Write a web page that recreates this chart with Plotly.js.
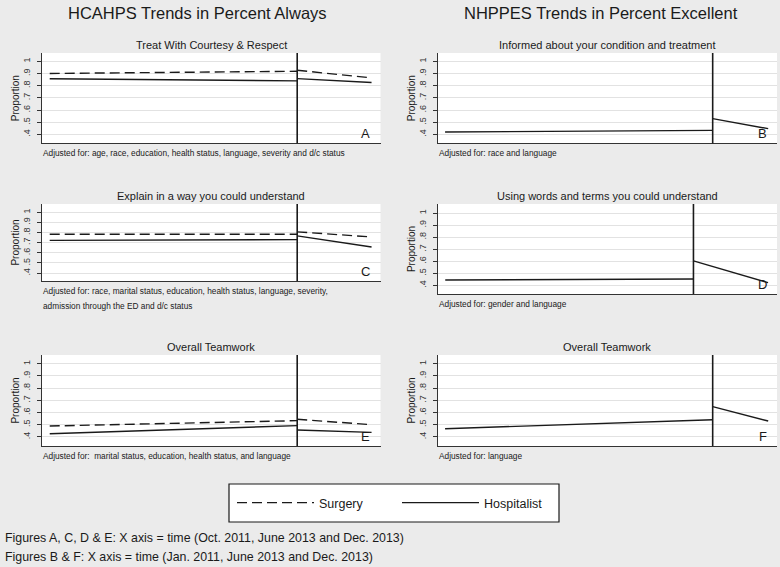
<!DOCTYPE html>
<html>
<head>
<meta charset="utf-8">
<script src="https://cdn.plot.ly/plotly-3.0.1.min.js"></script>
<style>html,body{margin:0;padding:0;background:#ebebeb;}#chart{width:780px;height:567px;}</style>
</head>
<body>
<div id="chart"></div>
<script>
// ---- Data ----
const datesACDE = ['2011-10-01', '2013-06-01', '2013-12-01'];
const datesBF   = ['2011-01-01', '2013-06-01', '2013-12-01'];
const breakDate = '2013-06-01';

// each series: [pre start, pre end (June 2013), post start (June 2013), post end (Dec 2013)]
const surgeryA     = [0.900, 0.918, 0.926, 0.864];
const hospitalistA = [0.857, 0.839, 0.858, 0.826];
const hospitalistB = [0.420, 0.433, 0.529, 0.447];
const surgeryC     = [0.783, 0.783, 0.807, 0.757];
const hospitalistC = [0.723, 0.730, 0.767, 0.657];
const hospitalistD = [0.444, 0.453, 0.603, 0.422];
const surgeryE     = [0.489, 0.533, 0.544, 0.500];
const hospitalistE = [0.426, 0.492, 0.456, 0.437];
const hospitalistF = [0.467, 0.541, 0.648, 0.530];

const yTickVals = [0.4, 0.5, 0.6, 0.7, 0.8, 0.9, 1];
const yTickText = ['.4', '.5', '.6', '.7', '.8', '.9', '1'];

const columnTitles = ['HCAHPS Trends in Percent Always', 'NHPPES Trends in Percent Excellent'];
const panelTitles = ['Treat With Courtesy & Respect', 'Informed about your condition and treatment',
  'Explain in a way you could understand', 'Using words and terms you could understand',
  'Overall Teamwork', 'Overall Teamwork'];
const panelLetters = ['A', 'B', 'C', 'D', 'E', 'F'];
const panelNotes = [
  ['Adjusted for: age, race, education, health status, language, severity and d/c status'],
  ['Adjusted for: race and language'],
  ['Adjusted for: race, marital status, education, health status, language, severity,', 'admission through the ED and d/c status'],
  ['Adjusted for: gender and language'],
  ['Adjusted for:  marital status, education, health status, and language'],
  ['Adjusted for: language']
];
const captions = ['Figures A, C, D & E: X axis = time (Oct. 2011, June 2013 and Dec. 2013)',
  'Figures B & F: X axis = time (Jan. 2011, June 2013 and Dec. 2013)'];
const seriesNames = ['Surgery', 'Hospitalist'];

// ---- Layout geometry ----
const W = 780, H = 567;
const colX = [[42, 380.5], [437.5, 777]];
const panelRows = [[53,143.3],[53,143.3],[204,281],[204,294],[355,446],[355,446]];
const panelCols = [0,1,0,1,0,1];
const panelDates = [datesACDE, datesBF, datesACDE, datesACDE, datesACDE, datesBF];
const xRanges = {ACDE: ['2011-09-12', '2013-12-23'], BF: ['2010-12-07', '2013-12-30']};
const panelXRange = [xRanges.ACDE, xRanges.BF, xRanges.ACDE, xRanges.ACDE, xRanges.ACDE, xRanges.BF];
const panelYRange = [[0.327,1.068],[0.327,1.068],[0.322,1.082],[0.328,1.076],[0.325,1.072],[0.325,1.072]];
const panelSeries = [
  [surgeryA, hospitalistA], [null, hospitalistB], [surgeryC, hospitalistC],
  [null, hospitalistD], [surgeryE, hospitalistE], [null, hospitalistF]
];

const ink = '#1a1a1a';
const FONT = 'Liberation Sans, Arial, Helvetica, sans-serif';

function seg(dates, v) {
  return {
    x: [dates[0], dates[1], dates[1], dates[1], dates[2]],
    y: [v[0], v[1], null, v[2], v[3]]
  };
}

const traces = [];
const layout = {
  width: W, height: H,
  margin: {l: 0, r: 0, t: 0, b: 0},
  paper_bgcolor: '#ebebeb',
  plot_bgcolor: '#ffffff',
  font: {family: FONT, color: ink},
  showlegend: true,
  legend: {
    orientation: 'h', x: 232 / W, xanchor: 'left', y: 1 - 503 / H, yanchor: 'middle',
    bgcolor: 'rgba(0,0,0,0)', borderwidth: 0, itemwidth: 77, entrywidth: 73,
    font: {size: 12.5, color: ink, family: FONT}, traceorder: 'normal'
  },
  shapes: [],
  annotations: []
};

for (let p = 0; p < 6; p++) {
  const ax = p === 0 ? '' : String(p + 1);
  const col = colX[panelCols[p]];
  const row = panelRows[p];
  layout['xaxis' + ax] = {
    domain: [col[0] / W, col[1] / W],
    type: 'date', range: panelXRange[p],
    showgrid: false, zeroline: false, showticklabels: false, ticks: '',
    showline: true, linecolor: '#333', linewidth: 1,
    anchor: 'y' + ax, fixedrange: true
  };
  layout['yaxis' + ax] = {
    domain: [1 - row[1] / H, 1 - row[0] / H],
    range: panelYRange[p],
    tickvals: yTickVals, ticktext: yTickText, tickangle: -90,
    tickfont: {size: 9, color: '#333'},
    ticks: 'outside', ticklen: 4, tickcolor: '#333', ticklabelstandoff: 3,
    showgrid: true, gridcolor: '#e2e2e2', gridwidth: 1, zeroline: false,
    showline: true, linecolor: '#333', linewidth: 1,
    title: {text: 'Proportion', font: {size: 10, color: ink}, standoff: 0},
    anchor: 'x' + ax, fixedrange: true
  };
  panelSeries[p].forEach((vals, s) => {
    if (!vals) return;
    const sg = seg(panelDates[p], vals);
    traces.push({
      type: 'scatter', mode: 'lines', x: sg.x, y: sg.y,
      xaxis: 'x' + ax, yaxis: 'y' + ax,
      name: seriesNames[s], legendgroup: seriesNames[s],
      showlegend: p === 0,
      line: {color: ink, width: 1.4, dash: s === 0 ? '10px,5px' : 'solid'},
      hoverinfo: 'skip', connectgaps: false
    });
  });
  layout.shapes.push({
    type: 'line', xref: 'x' + ax, yref: 'y' + ax + ' domain',
    x0: breakDate, x1: breakDate, y0: 0, y1: 1,
    line: {color: ink, width: 1.6}
  });
  layout.annotations.push({
    xref: 'x' + ax + ' domain', yref: 'y' + ax + ' domain', x: 0.5, y: 1,
    xanchor: 'center', yanchor: 'bottom', yshift: 0, showarrow: false,
    text: panelTitles[p], font: {size: 11, color: ink}
  });
  layout.annotations.push({
    xref: 'x' + ax + ' domain', yref: 'y' + ax + ' domain', x: 0.975, y: 0,
    xanchor: 'right', yanchor: 'bottom', yshift: 0, showarrow: false,
    text: panelLetters[p], font: {size: 13, color: ink}
  });
  panelNotes[p].forEach((line, i) => {
    layout.annotations.push({
      xref: 'x' + ax + ' domain', yref: 'y' + ax + ' domain', x: 0, y: 0,
      xanchor: 'left', yanchor: 'middle', yshift: -10 - 15 * i, xshift: -1, showarrow: false,
      text: line, font: {size: 8.3, color: ink}
    });
  });
}

layout.annotations.push({xref: 'paper', yref: 'paper', x: 197 / W, y: 1 - 13 / H, xanchor: 'center', yanchor: 'middle',
  showarrow: false, text: columnTitles[0], font: {size: 16.5, color: ink}});
layout.annotations.push({xref: 'paper', yref: 'paper', x: 601 / W, y: 1 - 13 / H, xanchor: 'center', yanchor: 'middle',
  showarrow: false, text: columnTitles[1], font: {size: 16.5, color: ink}});
captions.forEach((c, i) => {
  layout.annotations.push({xref: 'paper', yref: 'paper', x: 3 / W, y: 1 - (538 + 19 * i) / H, xanchor: 'left', yanchor: 'middle',
    showarrow: false, text: c, font: {size: 12.4, color: ink}});
});
layout.shapes.push({type: 'rect', xref: 'paper', yref: 'paper', layer: 'below',
  x0: 229 / W, x1: 559 / W, y0: 1 - 522 / H, y1: 1 - 484 / H,
  fillcolor: '#ffffff', line: {color: ink, width: 1.2}});

Plotly.newPlot('chart', traces, layout, {displayModeBar: false, staticPlot: true});
</script>
</body>
</html>
